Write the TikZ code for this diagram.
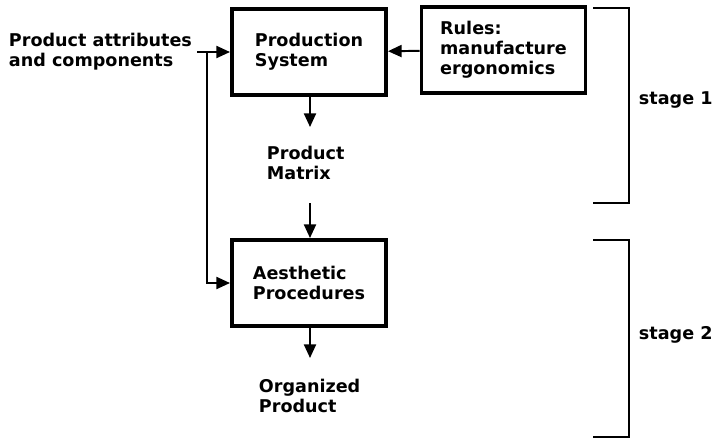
\documentclass[tikz,border=0pt]{standalone}
\usepackage{fontspec}
\setmainfont{DejaVu Sans}
\usetikzlibrary{arrows.meta,positioning}

\begin{document}
\begin{tikzpicture}[x=0.025cm, y=-0.025cm,
    box/.style={draw, line width=2.8pt, minimum width=3.85cm, minimum height=2.15cm,
      align=left, font=\fontsize{12.5}{14.2}\selectfont\bfseries},
    lbl/.style={align=left, anchor=north west, inner sep=0pt,
      font=\fontsize{12.5}{14.2}\selectfont\bfseries},
    >={Triangle[length=3.4mm,width=3mm]}, line width=1.4pt]
    \useasboundingbox (0,0) rectangle (713,443);
    % stage 1
    \node[box] (prod) at (309,52) {Production\\System};
    \node[box, minimum width=4.1cm] (rules) at (503.5,50) {Rules:\\manufacture\\ergonomics};
    \node[lbl] (attrs) at (8,32) {Product attributes\\and components};
    \node[lbl] (matrix) at (266,145) {Product\\Matrix};
    % stage 2
    \node[box] (aesth) at (309,283) {Aesthetic\\Procedures};
    \node[lbl] (org) at (258,378) {Organized\\Product};
    \coordinate (tail) at (197,52);
    \coordinate (split) at (207,52);
    \coordinate (p1) at (310,127);
    \coordinate (p2) at (310,203);
    \coordinate (p3) at (310,358);
    \draw[->] (rules) -- (prod);
    \draw[->] (tail) -- (prod);
    \draw[->] (split) |- (aesth);
    \draw[->] (prod.south -| p1) -- (p1);
    \draw[->] (p2) -- (aesth.north -| p2);
    \draw[->] (aesth.south -| p3) -- (p3);
    % brackets
    \draw (593,8) -| (629,203) -- (593,203);
    \draw (593,240) -| (629,437) -- (593,437);
    \node[lbl, anchor=west] (s1) at (638,100) {stage 1};
    \node[lbl, anchor=west] (s2) at (638,335) {stage 2};
\end{tikzpicture}
\end{document}
